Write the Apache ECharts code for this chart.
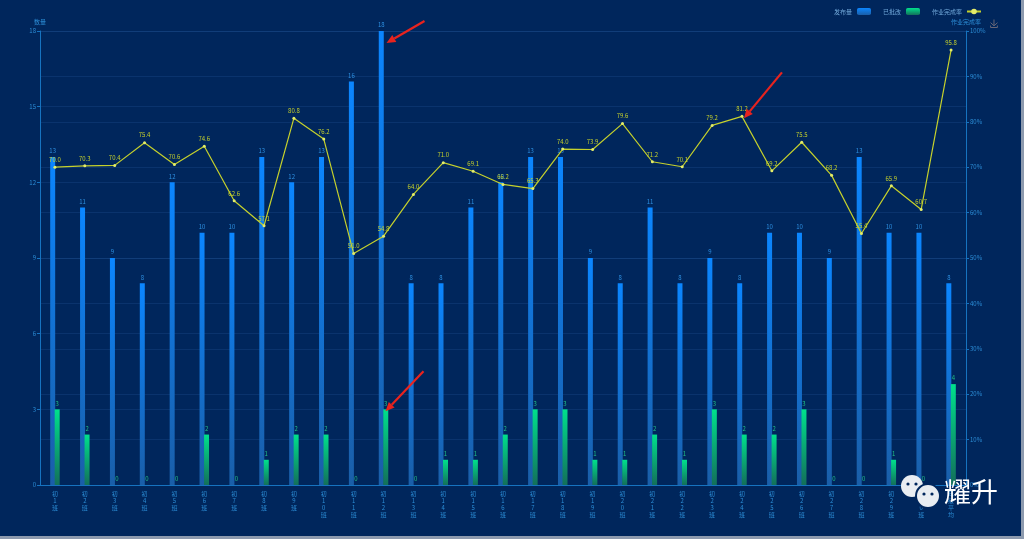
<!DOCTYPE html>
<html>
<head>
<meta charset="utf-8">
<script src="https://cdn.jsdelivr.net/npm/echarts@6/dist/echarts.min.js"></script>
<style>
html,body{margin:0;padding:0;background:#8d9aae;}
#c{width:1021px;height:536px;background:#00265c;}
</style>
</head>
<body>
<div id="c"></div>
<script>
var categories = [];
for (var i = 1; i <= 30; i++) categories.push('初' + i + '班');
categories.push('年级平均');
var published = [13,11,9,8,12,10,10,13,12,13,16,18,8,8,11,12,13,13,9,8,11,8,9,8,10,10,9,13,10,10,8];
var corrected = [3,2,0,0,0,2,0,1,2,2,0,3,0,1,1,2,3,3,1,1,2,1,3,2,2,3,0,0,1,0,4];
var rate = [70.0,70.3,70.4,75.4,70.6,74.6,62.6,57.1,80.8,76.2,51.0,54.8,64.0,71.0,69.1,66.2,65.3,74.0,73.9,79.6,71.2,70.1,79.2,81.2,69.2,75.5,68.2,55.4,65.9,60.7,95.8];
var leftTicks = [0,3,6,9,12,15,18];
var rightTicks = [0,10,20,30,40,50,60,70,80,90,100];

var axisColor = '#1673c0';
var labelColor = '#2b8dd6';
var chart = echarts.init(document.getElementById('c'));
var option = {
  backgroundColor: '#00265c',
  animation: false,
  textStyle: {fontFamily: 'Noto Sans CJK SC'},
  legend: {
    right: 34, top: 3, itemWidth: 14, itemHeight: 7, itemGap: 12, align: 'right',
    textStyle: {color: '#6fa7d8', fontSize: 6},
    data: ['发布量', '已批改', '作业完成率']
  },
  toolbox: {right: 6, top: 2, itemSize: 8, feature: {saveAsImage: {}}, iconStyle: {borderColor: '#667'}},
  grid: {left: 40, right: 55, top: 31, bottom: 51},
  xAxis: {
    type: 'category', data: categories,
    axisLine: {lineStyle: {color: axisColor}},
    axisTick: {show: false},
    axisLabel: {color: labelColor, fontSize: 6, lineHeight: 7, interval: 0, margin: 5,
      formatter: function (v) { return v.split('').join('\n'); }}
  },
  yAxis: [{
    type: 'value', name: '数量', min: leftTicks[0], max: leftTicks[leftTicks.length-1], interval: 3,
    nameTextStyle: {color: labelColor, fontSize: 6, padding: [0, 0, -2, 0]}, nameGap: 8,
    axisLine: {show: true, lineStyle: {color: axisColor}},
    axisTick: {show: true, length: 3},
    axisLabel: {color: labelColor, fontSize: 6, margin: 4},
    splitLine: {lineStyle: {color: 'rgba(40,90,160,0.25)'}}
  }, {
    type: 'value', name: '作业完成率', min: rightTicks[0], max: rightTicks[rightTicks.length-1], interval: 10,
    nameTextStyle: {color: labelColor, fontSize: 6, padding: [0, 0, -2, 0]}, nameGap: 8,
    axisLine: {show: true, lineStyle: {color: axisColor}},
    axisTick: {show: true, length: 3},
    axisLabel: {color: labelColor, fontSize: 6, margin: 4, formatter: '{value}%'},
    splitLine: {lineStyle: {color: 'rgba(40,90,160,0.25)'}}
  }],
  series: [{
    name: '发布量', type: 'bar', data: published, barWidth: 5, barGap: '-10%',
    itemStyle: {color: new echarts.graphic.LinearGradient(0,0,0,1,[{offset:0,color:'#0b86ff'},{offset:1,color:'#1a5ea8'}])},
    label: {show: true, position: 'top', color: '#2c8fe0', fontSize: 6, distance: 3}
  }, {
    name: '已批改', type: 'bar', data: corrected, barWidth: 5,
    itemStyle: {color: new echarts.graphic.LinearGradient(0,0,0,1,[{offset:0,color:'#00e08c'},{offset:1,color:'#13705a'}])},
    label: {show: true, position: 'top', color: '#1fbf86', fontSize: 6, distance: 3}
  }, {
    name: '作业完成率', type: 'line', yAxisIndex: 1, data: rate,
    symbol: 'circle', symbolSize: 3,
    lineStyle: {color: '#c5d12c', width: 1.2},
    itemStyle: {color: '#e4ec6a'},
    label: {show: true, position: 'top', color: '#c5d12c', fontSize: 6, distance: 3,
      formatter: function (p) { return p.value.toFixed(1); }}
  }]
};
chart.setOption(option);

function arrow(tip, dx, dy) {
  var x0 = tip[0] + dx, y0 = tip[1] + dy;
  var ang = Math.atan2(tip[1] - y0, tip[0] - x0);
  var hl = 9, hw = 4;
  var bx = tip[0] - hl * Math.cos(ang), by = tip[1] - hl * Math.sin(ang);
  var px = -Math.sin(ang) * hw, py = Math.cos(ang) * hw;
  return [
    {type: 'line', shape: {x1: x0, y1: y0, x2: bx, y2: by}, style: {stroke: '#e8231e', lineWidth: 2.2}, z: 100},
    {type: 'polygon', shape: {points: [[tip[0], tip[1]], [bx + px, by + py], [bx - px, by - py]]}, style: {fill: '#e8231e'}, z: 100}
  ];
}
var p1 = chart.convertToPixel({seriesIndex: 0}, [11, published[11]]);
var p2 = chart.convertToPixel({seriesIndex: 1}, [11, corrected[11]]);
var p3 = chart.convertToPixel({seriesIndex: 2}, [23, rate[23]]);
var g = [].concat(
  arrow([p1[0] + 3, p1[1] + 12], 38, -22),
  arrow([p2[0] + 2, p2[1] + 2], 38, -40),
  arrow([p3[0] + 2, p3[1] + 2], 38, -46)
);
g.push({type: 'circle', shape: {cx: 912, cy: 486, r: 11}, style: {fill: '#e9edf2'}, z: 100});
g.push({type: 'circle', shape: {cx: 928, cy: 496, r: 12}, style: {fill: '#e9edf2', stroke: '#00265c', lineWidth: 2}, z: 101});
g.push({type: 'circle', shape: {cx: 908, cy: 484, r: 1.6}, style: {fill: '#00265c'}, z: 102});
g.push({type: 'circle', shape: {cx: 916, cy: 484, r: 1.6}, style: {fill: '#00265c'}, z: 102});
g.push({type: 'circle', shape: {cx: 924, cy: 494, r: 1.6}, style: {fill: '#00265c'}, z: 102});
g.push({type: 'circle', shape: {cx: 932, cy: 494, r: 1.6}, style: {fill: '#00265c'}, z: 102});
g.push({type: 'text', left: 944, top: 478, style: {text: '耀升', fill: '#ffffff', fontSize: 27, fontFamily: 'Noto Sans CJK SC'}, z: 100});
chart.setOption({graphic: g});
</script>
</body>
</html>
